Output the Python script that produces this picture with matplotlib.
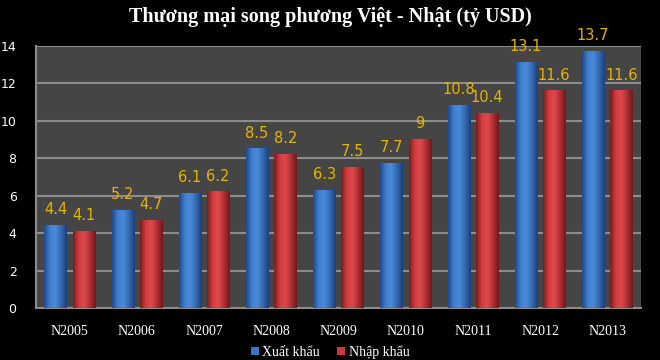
import numpy as np
import matplotlib
matplotlib.use('Agg')
import matplotlib.pyplot as plt
from matplotlib.colors import LinearSegmentedColormap

years = ['N2005', 'N2006', 'N2007', 'N2008', 'N2009', 'N2010', 'N2011', 'N2012', 'N2013']
xuat_khau = [4.4, 5.2, 6.1, 8.5, 6.3, 7.7, 10.8, 13.1, 13.7]
nhap_khau = [4.1, 4.7, 6.2, 8.2, 7.5, 9, 10.4, 11.6, 11.6]
yticks = [0, 2, 4, 6, 8, 10, 12, 14]

fig = plt.figure(figsize=(6.6, 3.6), dpi=100, facecolor='black')
ax = fig.add_axes([0.0545, 0.1444, 0.9165, 0.7278])
ax.set_facecolor('#454545')

x = np.arange(len(years))
w = 0.33
off = 0.21

blue_cm = LinearSegmentedColormap.from_list('b', ['#1f4a8a', '#3f7fd0', '#4a8ad8', '#3368b0', '#1c3f78'])
red_cm = LinearSegmentedColormap.from_list('r', ['#7a1c20', '#d23c40', '#dc4a4c', '#b02e32', '#6e181c'])
grad = np.linspace(0, 1, 64).reshape(1, -1)

def draw_bars(xs, vals, base, cmap):
    bars = ax.bar(xs, vals, w, color=base, zorder=2)
    for b in bars:
        bx, bw, bh = b.get_x(), b.get_width(), b.get_height()
        ax.imshow(grad, cmap=cmap, aspect='auto', extent=(bx, bx + bw, 0, bh),
                  zorder=3, interpolation='bilinear')
    return bars

b1 = draw_bars(x - off, xuat_khau, '#3a75c4', blue_cm)
b2 = draw_bars(x + off, nhap_khau, '#c83a3d', red_cm)

# nhãn giá trị trên đầu cột
for xs, vals in [(x - off, xuat_khau), (x + off, nhap_khau)]:
    for xi, v in zip(xs, vals):
        ax.text(xi, v + 0.45, f'{v:g}', ha='center', va='bottom', color='#e8b400',
                fontsize=10.5, family='Liberation Sans Narrow', zorder=5)

ax.set_xlim(-0.5, len(years) - 0.5)
ax.set_ylim(0, 14)
ax.set_yticks(yticks)
ax.set_yticklabels([str(t) for t in yticks], color='white', fontsize=9)
ax.set_xticks(x)
ax.set_xticklabels(years, color='white', fontsize=10, family='Liberation Serif')
ax.tick_params(length=0, pad=12)
ax.tick_params(axis='y', pad=14)
ax.yaxis.grid(True, color='#8c8c8c', linewidth=1.5, zorder=1)
ax.set_axisbelow(True)
for s in ['top', 'right']:
    ax.spines[s].set_visible(False)
for s in ['left', 'bottom']:
    ax.spines[s].set_color('#8c8c8c')
    ax.spines[s].set_linewidth(1.5)

fig.text(0.5, 0.952, 'Thương mại song phương Việt - Nhật (tỷ USD)', ha='center', va='center',
         color='white', fontsize=14.5, fontweight='bold', family='Liberation Serif')

leg = fig.legend([b1, b2], ['Xuất khẩu', 'Nhập khẩu'], loc='center', bbox_to_anchor=(0.5, 0.022),
                 ncol=2, frameon=False, handlelength=0.6, handleheight=0.6, handletextpad=0.25,
                 columnspacing=1.2, prop={'family': 'Liberation Serif', 'size': 10})
for t in leg.get_texts():
    t.set_color('white')

fig.savefig('out.png', dpi=100, facecolor='black')
